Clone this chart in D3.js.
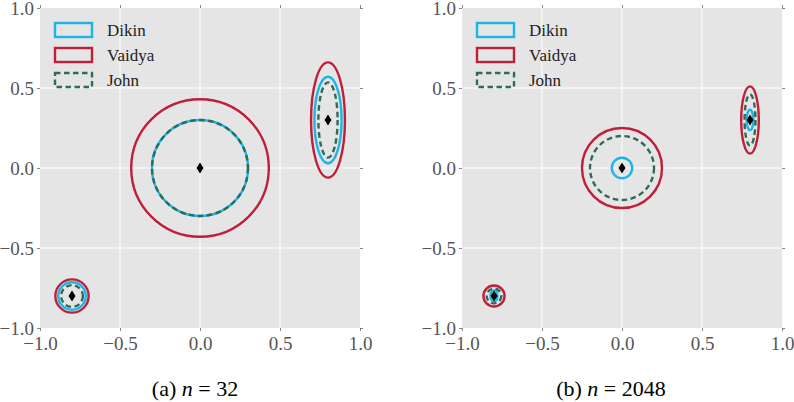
<!DOCTYPE html>
<html><head><meta charset="utf-8">
<script src="https://cdn.jsdelivr.net/npm/d3@7"></script>
<style>body{margin:0;background:#fff}svg{display:block}</style>
</head><body>
<svg id="chart" width="794" height="402"></svg>
<script>
// ---- data ----
const tickValues = [-1.0, -0.5, 0.0, 0.5, 1.0];
const tickLabels = ["\u22121.0", "\u22120.5", "0.0", "0.5", "1.0"];
const methods = ["Dikin", "Vaidya", "John"];
const centersX = [0.0, 0.8, -0.8];
const centersY = [0.0, 0.3, -0.8];
// panel (a) n = 32 : semi-axes [rx, ry] for each center
const dikinA  = [[0.30, 0.30], [0.085, 0.27], [0.086, 0.086]];
const vaidyaA = [[0.43, 0.43], [0.106, 0.36], [0.104, 0.104]];
const johnA   = [[0.30, 0.30], [0.060, 0.235], [0.068, 0.068]];
// panel (b) n = 2048
const dikinB  = [[0.064, 0.064], [0.021, 0.064], [0.022, 0.034]];
const vaidyaB = [[0.25, 0.25], [0.055, 0.21], [0.066, 0.066]];
const johnB   = [[0.20, 0.20], [0.034, 0.16], [0.046, 0.046]];
const panelNs = ["32", "2048"];
const panelTags = ["(a)", "(b)"];

const colors = {Dikin: "#1cb5e6", Vaidya: "#c01f3b", John: "#2f6b57"};
const dashes = {Dikin: null, Vaidya: null, John: "5.5,3.5"};
const FONT = "Liberation Serif";

const svg = d3.select("#chart");
const panels = [
  {left: 40, top: 8, size: 320, data: {Dikin: dikinA, Vaidya: vaidyaA, John: johnA}, capX: 195},
  {left: 462, top: 8, size: 320, data: {Dikin: dikinB, Vaidya: vaidyaB, John: johnB}, capX: 611}
];

panels.forEach((p, pi) => {
  const x = d3.scaleLinear().domain([-1, 1]).range([p.left, p.left + p.size]);
  const y = d3.scaleLinear().domain([-1, 1]).range([p.top + p.size, p.top]);
  const g = svg.append("g");
  g.append("rect").attr("x", p.left).attr("y", p.top).attr("width", p.size).attr("height", p.size).attr("fill", "#e5e5e5");
  // grid
  const inner = [-0.5, 0, 0.5];
  g.selectAll(".gx").data(inner).enter().append("line")
    .attr("x1", d => x(d)).attr("x2", d => x(d)).attr("y1", p.top).attr("y2", p.top + p.size)
    .attr("stroke", "#fff").attr("stroke-width", 1);
  g.selectAll(".gy").data(inner).enter().append("line")
    .attr("y1", d => y(d)).attr("y2", d => y(d)).attr("x1", p.left).attr("x2", p.left + p.size)
    .attr("stroke", "#fff").attr("stroke-width", 1);

  // axes
  const fmt = (d) => tickLabels[tickValues.indexOf(d)];
  const axStyle = (a) => {
    a.attr("font-family", FONT).attr("font-size", 19);
    a.select(".domain").remove();
    a.selectAll(".tick line").attr("stroke", "#666").attr("stroke-width", 0.8);
    a.selectAll(".tick text").attr("fill", "#555").attr("font-family", FONT).attr("font-size", 19);
  };
  g.append("g").attr("transform", `translate(0,${p.top + p.size})`)
    .call(d3.axisBottom(x).tickValues(tickValues).tickFormat(fmt).tickSize(3).tickPadding(6)).call(axStyle);
  g.append("g").attr("transform", `translate(${p.left},0)`)
    .call(d3.axisLeft(y).tickValues(tickValues).tickFormat(fmt).tickSize(3).tickPadding(3)).call(axStyle);
  g.append("g").attr("transform", `translate(0,${p.top})`)
    .call(d3.axisTop(x).tickValues(tickValues).tickFormat("").tickSize(3)).call(axStyle);
  g.append("g").attr("transform", `translate(${p.left + p.size},0)`)
    .call(d3.axisRight(y).tickValues(tickValues).tickFormat("").tickSize(3)).call(axStyle);

  // ellipses
  ["Vaidya", "Dikin", "John"].forEach(m => {
    g.selectAll(".e" + m).data(p.data[m]).enter().append("ellipse")
      .attr("cx", (d, i) => x(centersX[i])).attr("cy", (d, i) => y(centersY[i]))
      .attr("rx", d => x(d[0]) - x(0)).attr("ry", d => y(0) - y(d[1]))
      .attr("fill", "none").attr("stroke", colors[m]).attr("stroke-width", 2.4)
      .attr("stroke-dasharray", dashes[m]);
  });
  // centers (diamonds)
  const diamond = "M0,-5.5L3.5,0L0,5.5L-3.5,0Z";
  g.selectAll(".c").data(centersX).enter().append("path")
    .attr("d", diamond)
    .attr("transform", (d, i) => `translate(${x(centersX[i])},${y(centersY[i])})`)
    .attr("fill", "#000");

  // legend
  const lg = g.append("g").attr("transform", `translate(${p.left + 15},${p.top + 15})`);
  methods.forEach((m, i) => {
    lg.append("rect").attr("x", 0).attr("y", i * 25).attr("width", 37).attr("height", 14)
      .attr("fill", "none").attr("stroke", colors[m]).attr("stroke-width", 2.4)
      .attr("stroke-dasharray", dashes[m]);
    lg.append("text").attr("x", 52).attr("y", i * 25 + 13).text(m)
      .attr("font-family", FONT).attr("font-size", 17).attr("fill", "#222");
  });

  // caption
  const cap = svg.append("text").attr("x", p.capX).attr("y", 396).attr("text-anchor", "middle")
    .attr("font-family", FONT).attr("font-size", 22).attr("fill", "#000");
  cap.append("tspan").text(panelTags[pi] + " ");
  cap.append("tspan").attr("font-style", "italic").text("n");
  cap.append("tspan").text(" = " + panelNs[pi]);
});
</script>
</body></html>
